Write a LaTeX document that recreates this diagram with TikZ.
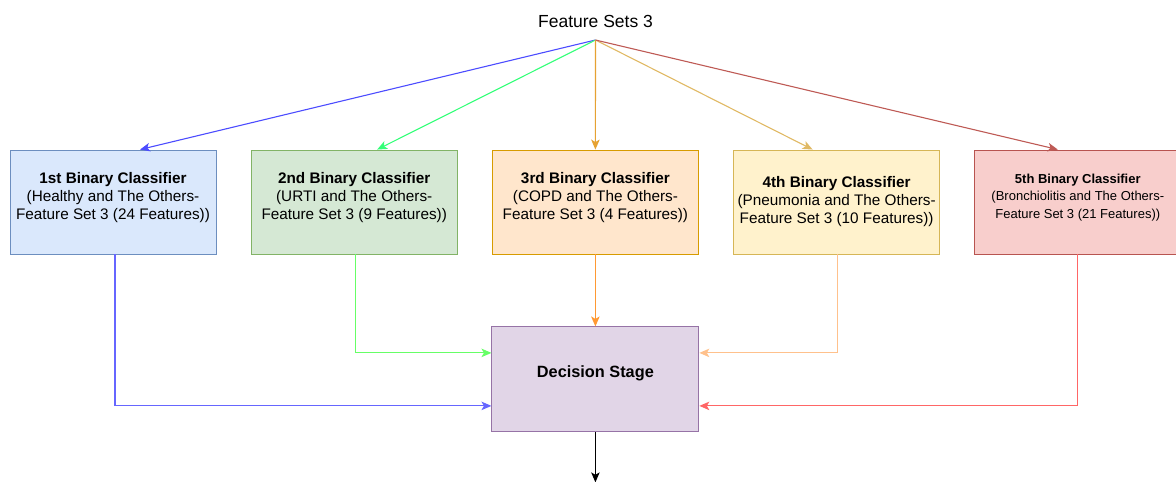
\documentclass[tikz,border=0pt]{standalone}
\usepackage{fontspec}
\setmainfont{Liberation Sans}
\usepackage{xcolor}
\usetikzlibrary{shapes.geometric, arrows.meta, positioning}

\definecolor{blueFill}{HTML}{DAE8FC}\definecolor{blueLine}{HTML}{6C8EBF}
\definecolor{greenFill}{HTML}{D5E8D4}\definecolor{greenLine}{HTML}{82B366}
\definecolor{orangeFill}{HTML}{FFE6CC}\definecolor{orangeLine}{HTML}{D79B00}
\definecolor{yellowFill}{HTML}{FFF2CC}\definecolor{yellowLine}{HTML}{D6B656}
\definecolor{redFill}{HTML}{F8CECC}\definecolor{redLine}{HTML}{B85450}
\definecolor{purpleFill}{HTML}{E1D5E7}\definecolor{purpleLine}{HTML}{9673A6}

\tikzset{
  classifier/.style={draw, line width=0.9pt, minimum width=206pt, minimum height=104pt,
    align=center, font=\fontsize{15.3}{18}\selectfont},
  raised/.style={text depth=12pt},
  decision/.style={draw=purpleLine, fill=purpleFill, line width=0.9pt, text depth=15pt,
    minimum width=207pt, minimum height=105pt, font=\fontsize{16.3}{20}\selectfont\bfseries},
  link/.style={line width=1.1pt, -{Stealth[length=10pt,width=8.5pt,inset=2.5pt]}}
}

\begin{document}
\begin{tikzpicture}[node distance=34.3pt]
\useasboundingbox (0,0) rectangle (1176pt,-482pt);

\node[font=\fontsize{17.5}{20}\selectfont] (title) at (595.5pt,-21pt) {Feature Sets 3};
\coordinate (hub) at (595.5pt,-40pt);

\node[classifier, raised, draw=blueLine, fill=blueFill] (clf1) at (113pt,-202pt)
  {\textbf{1st Binary Classifier}\\(Healthy and The Others-\\Feature Set 3 (24 Features))};
\node[classifier, raised, draw=greenLine, fill=greenFill, right=of clf1] (clf2)
  {\textbf{2nd Binary Classifier}\\(URTI and The Others-\\Feature Set 3 (9 Features))};
\node[classifier, raised, draw=orangeLine, fill=orangeFill, right=of clf2] (clf3)
  {\textbf{3rd Binary Classifier}\\(COPD and The Others-\\Feature Set 3 (4 Features))};
\node[classifier, draw=yellowLine, fill=yellowFill, right=of clf3] (clf4)
  {\textbf{4th Binary Classifier}\\(Pneumonia and The Others-\\Feature Set 3 (10 Features))};
\node[classifier, raised, draw=redLine, fill=redFill, right=of clf4, font=\fontsize{13}{17.5}\selectfont] (clf5)
  {\textbf{5th Binary Classifier}\\(Bronchiolitis and The Others-\\Feature Set 3 (21 Features))};

\node[decision, below=72pt of clf3] (dec) {Decision Stage};
\coordinate (out) at ([yshift=-50pt]dec.south);

% fan out from the feature sets
\draw[link, color={rgb,255:red,76;green,76;blue,255}] (hub) -- ([xshift=27pt]clf1.north);
\draw[link, color={rgb,255:red,51;green,255;blue,120}] (hub) -- ([xshift=23pt]clf2.north);
\draw[link, color={rgb,255:red,230;green,162;blue,50}] (hub) -- (clf3.north);
\draw[link, color={rgb,255:red,224;green,185;blue,100}] (hub) -- ([xshift=-24pt]clf4.north);
\draw[link, color={rgb,255:red,190;green,90;blue,85}] (hub) -- ([xshift=-20pt]clf5.north);

% classifiers into the decision stage
\draw[link, color={rgb,255:red,102;green,102;blue,255}] ([xshift=2pt]clf1.south) |- ([yshift=-26.5pt]dec.west);
\draw[link, color={rgb,255:red,102;green,255;blue,102}] ([xshift=1pt]clf2.south) |- ([yshift=26.5pt]dec.west);
\draw[link, color={rgb,255:red,255;green,153;blue,51}] (clf3.south) -- (dec.north);
\draw[link, color={rgb,255:red,255;green,193;blue,140}] ([xshift=1pt]clf4.south) |- ([yshift=26.5pt]dec.east);
\draw[link, color={rgb,255:red,255;green,102;blue,102}] (clf5.south) |- ([yshift=-26.5pt]dec.east);

\draw[link, black] (dec.south) -- (out);
\end{tikzpicture}
\end{document}
